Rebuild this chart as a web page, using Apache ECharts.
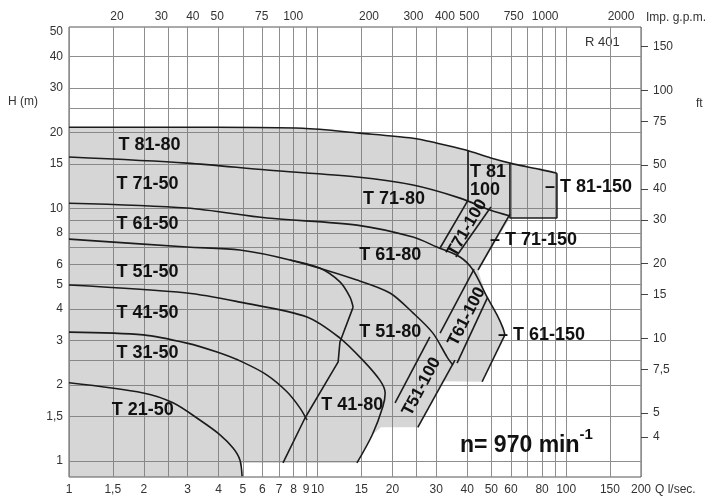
<!DOCTYPE html>
<html><head><meta charset="utf-8">
<script src="https://cdn.jsdelivr.net/npm/echarts@6/dist/echarts.min.js"></script>
<style>html,body{margin:0;padding:0;background:#fff}#c{width:718px;height:502px}</style>
</head><body><div id="c"></div>
<script>
// ---- axis ticks / labels ----
const qLabels = [1,1.5,2,3,4,5,6,7,8,9,10,15,20,30,40,50,60,80,100,150,200];
const qGrid = [1,1.5,2,2.5,3,4,5,6,7,8,9,10,15,20,25,30,40,50,60,70,80,90,100,150,200];
const hLabels = [1,1.5,2,3,4,5,6,8,10,15,20,30,40,50];
const hGrid = [1,1.5,2,2.5,3,4,5,6,7,8,9,10,15,20,25,30,40];
const ftLabels = [4,5,7.5,10,15,20,30,40,50,75,100,150];
const gpmLabels = [20,30,40,50,75,100,200,300,400,500,750,1000,2000];

// ---- pump curves: [Q l/s, H m] ----
const t81Head = [[1,21.0],[3.9,21.0],[8.7,20.8],[14.8,19.9],[24.2,19.0],[30,18.2],[39.5,17.05],[49.8,15.85],[61.7,15.0],[78.5,14.3],[91.8,13.8]];
const t81Box150 = [[91.8,13.8],[91.8,9.17],[59.4,9.17],[59.4,15.1]];
const t81Split100 = [[40.3,17.0],[40.3,10.8]];
const t71Head = [[1,16.0],[2.98,15.14],[6.26,14.21],[14.4,13.33],[24.2,12.39],[37.4,11.0],[49.4,9.86],[59.4,9.34]];
const t71Edge150 = [[59.4,9.51],[44.2,5.71]];
const t71Band100a = [[31.1,6.98],[40.3,10.8]];
const t71Band100b = [[36.0,6.43],[49.8,10.14]];
const t61Head = [[1,10.5],[2.98,10.05],[6.26,9.17],[14.4,8.6],[24.2,7.71],[30.2,7.04],[37.4,6.43],[42.2,5.71],[47.6,4.54],[52.7,3.79],[55.7,3.36],[56.7,3.16]];
const t61Edge150 = [[56.7,3.16],[45.9,2.06]];
const t61Band100a = [[31.1,3.21],[42.6,5.76]];
const t61Band100b = [[36.4,2.44],[48.3,4.45]];
const t51Head = [[1,7.57],[2.98,7.04],[4.87,6.85],[7.74,6.25],[14.4,5.21],[19.55,4.63],[24.2,3.86],[29.1,3.21],[33.2,2.58],[35.0,2.4]];
const t51Branch50 = [[7.74,6.25],[10.2,5.81],[12.3,5.12],[13.5,4.46],[13.9,4.07]];
const edge50 = [[13.9,4.07],[12.3,2.96],[12.1,2.47],[8.9,1.48],[7.26,0.982]];
const t51Band100a = [[20.5,1.70],[28.3,3.10]];
const t51Band100b = [[25.3,1.36],[35.7,2.51]];
const t41Head = [[1,4.98],[2.98,4.63],[4.87,4.26],[9.07,3.72],[12.3,3.07],[15.2,2.51],[17.8,2.09],[18.7,1.86],[18.3,1.64],[16.6,1.27],[14.4,0.982]];
const t31Head = [[1,3.24],[1.99,3.16],[2.98,2.93],[3.94,2.70],[4.97,2.47],[6.26,2.19],[7.53,1.88],[8.5,1.62],[9.07,1.45]];
const t21Head = [[1,2.04],[1.99,1.86],[2.62,1.70],[3.37,1.45],[4.05,1.27],[4.57,1.126],[4.87,1.01],[4.97,0.87]];

// ---- shaded operating field outline ----
const fieldOutline = [[1,21.0],[3.9,21.0],[8.7,20.8],[14.8,19.9],[24.2,19.0],[30,18.2],[39.5,17.05],[49.8,15.85],[61.7,15.0],[78.5,14.3],[91.8,13.8],[91.8,9.17],[59.4,9.17],[44.2,5.71],[47.6,4.54],[52.7,3.79],[55.7,3.36],[56.7,3.16],[45.9,2.06],[31.9,2.07],[25.3,1.36],[18.0,1.36],[16.6,1.27],[14.4,0.982],[4.97,0.982],[4.97,0.864],[1,0.864]];

// ---- labels ----
const modelText = ['T 81-80','T 71-50','T 61-50','T 51-50','T 41-50','T 31-50','T 21-50','T 71-80','T 61-80','T 51-80','T 41-80'];
const modelAt = [[2.11,17.8],[2.07,12.5],[2.07,8.68],[2.07,5.6],[2.07,3.87],[2.07,2.68],[1.98,1.59],[20.3,10.9],[19.6,6.52],[19.6,3.23],[13.8,1.66]];
const bandText = ['T71-100','T61-100','T51-100'];
const bandAt = [[39.9,8.37],[39.8,3.73],[26.2,1.97]];
const bandAngle = [60,63,62];
const sideText = ['\u2013 T 81-150','\u2013 T 71-150','\u2013 T 61-150'];
const sideAt = [[82.2,12.2],[49.4,7.5],[53.2,3.16]];
const t81_100Text = 'T 81\n100';
const t81_100At = [[41.0,12.85]];
const speedAt = [[37.4,1.19]];

const FONT = '"Liberation Sans", Arial, Helvetica, sans-serif';
const fmt = v => String(+Number(v).toPrecision(6)).replace('.', ',');
const chart = echarts.init(document.getElementById('c'));

function curve(data, smooth) {
  return { type:'line', data, xAxisIndex:0, yAxisIndex:0, showSymbol:false, symbol:'none',
    smooth: smooth ? 0.3 : false, lineStyle:{color:'#1c1c1c', width:1.6}, silent:true, z:3, animation:false };
}
function textSeries(pos, build) {
  return { type:'custom', coordinateSystem:'cartesian2d', xAxisIndex:0, yAxisIndex:0, data:pos, silent:true, z:5, animation:false,
    renderItem:(params, api) => { const p = api.coord([api.value(0), api.value(1)]); return build(params.dataIndex, p); } };
}
const boldTxt = size => 'bold ' + size + 'px ' + FONT;

chart.setOption({
  animation:false,
  backgroundColor:'#fff',
  grid:{left:69, right:77, top:27, bottom:25, show:true, borderColor:'#555', borderWidth:1, backgroundColor:'transparent', outerBoundsMode:'none'},
  xAxis:[
    { type:'log', logBase:10, min:1, max:200, position:'bottom',
      axisLine:{show:false}, axisTick:{show:false, customValues:qGrid},
      axisLabel:{customValues:qLabels, formatter:fmt, color:'#333', fontSize:12, fontFamily:FONT, margin:7, hideOverlap:false},
      splitLine:{show:true, lineStyle:{color:'#8e8e8e', width:1}}, minorTick:{show:false}, minorSplitLine:{show:false} },
    { type:'log', logBase:10, min:12.9, max:2400, position:'top',
      axisLine:{show:false}, axisTick:{show:false},
      axisLabel:{customValues:gpmLabels, formatter:fmt, color:'#333', fontSize:12, fontFamily:FONT, margin:4, hideOverlap:false},
      splitLine:{show:false} }
  ],
  yAxis:[
    { type:'log', logBase:10, min:0.864, max:52.4, position:'left',
      axisLine:{show:false}, axisTick:{show:false, customValues:hGrid},
      axisLabel:{customValues:hLabels, formatter:fmt, color:'#333', fontSize:12, fontFamily:FONT, margin:6, hideOverlap:false},
      splitLine:{show:true, lineStyle:{color:'#8e8e8e', width:1}} },
    { type:'log', logBase:10, min:2.76, max:180, position:'right',
      axisLine:{show:false}, axisTick:{show:true, customValues:ftLabels, length:7, inside:false, lineStyle:{color:'#444', width:1}},
      axisLabel:{customValues:ftLabels, formatter:fmt, color:'#333', fontSize:12, fontFamily:FONT, margin:12, hideOverlap:false},
      splitLine:{show:false} }
  ],
  graphic:[
    {type:'text', left:8, top:96, style:{text:'H (m)', font:'12px '+FONT, fill:'#333'}},
    {type:'text', left:696, top:98, style:{text:'ft', font:'12px '+FONT, fill:'#333'}},
    {type:'text', left:646, top:12, style:{text:'Imp. g.p.m.', font:'12px '+FONT, fill:'#333'}},
    {type:'text', left:655, top:484, style:{text:'Q l/sec.', font:'12px '+FONT, fill:'#333'}},
    {type:'text', left:585, top:36, style:{text:'R 401', font:'13px '+FONT, fill:'#333'}}
  ],
  series:[
    { type:'custom', coordinateSystem:'cartesian2d', xAxisIndex:0, yAxisIndex:0, data:fieldOutline, silent:true, z:1, animation:false,
      renderItem:(params, api) => params.dataIndex !== 0 ? null : ({
        type:'polygon', shape:{points: fieldOutline.map(p => api.coord(p))},
        style:{fill:'rgba(120,120,120,0.30)'} }) },
    curve(t81Head, true), curve(t81Box150), curve(t81Split100),
    curve(t71Head, true), curve(t71Edge150), curve(t71Band100a), curve(t71Band100b),
    curve(t61Head, true), curve(t61Edge150), curve(t61Band100a), curve(t61Band100b),
    curve(t51Head, true), curve(t51Branch50, true), curve(edge50), curve(t51Band100a), curve(t51Band100b),
    curve(t41Head, true), curve(t31Head, true), curve(t21Head, true),
    textSeries(modelAt, (i, p) => ({type:'text', x:p[0], y:p[1],
      style:{text:modelText[i], font:boldTxt(18), fill:'#111', align:'center', verticalAlign:'middle'}})),
    textSeries(bandAt, (i, p) => ({type:'text', x:p[0], y:p[1], rotation:bandAngle[i]*Math.PI/180,
      style:{text:bandText[i], font:boldTxt(17), fill:'#111', align:'center', verticalAlign:'middle'}})),
    textSeries(sideAt, (i, p) => ({type:'text', x:p[0], y:p[1],
      style:{text:sideText[i], font:boldTxt(18), fill:'#111', align:'left', verticalAlign:'middle'}})),
    textSeries(t81_100At, (i, p) => ({type:'text', x:p[0], y:p[1],
      style:{text:t81_100Text, font:boldTxt(18), lineHeight:18, fill:'#111', align:'left', verticalAlign:'middle'}})),
    textSeries(speedAt, (i, p) => ({type:'text', x:p[0], y:p[1],
      style:{text:'{a|n= 970 min}{b|-1}', align:'left', verticalAlign:'middle',
        rich:{a:{font:boldTxt(23), fill:'#111', lineHeight:30, verticalAlign:'bottom'},
              b:{font:boldTxt(15), fill:'#111', lineHeight:16, verticalAlign:'top'}}}}))
  ]
});
</script></body></html>
